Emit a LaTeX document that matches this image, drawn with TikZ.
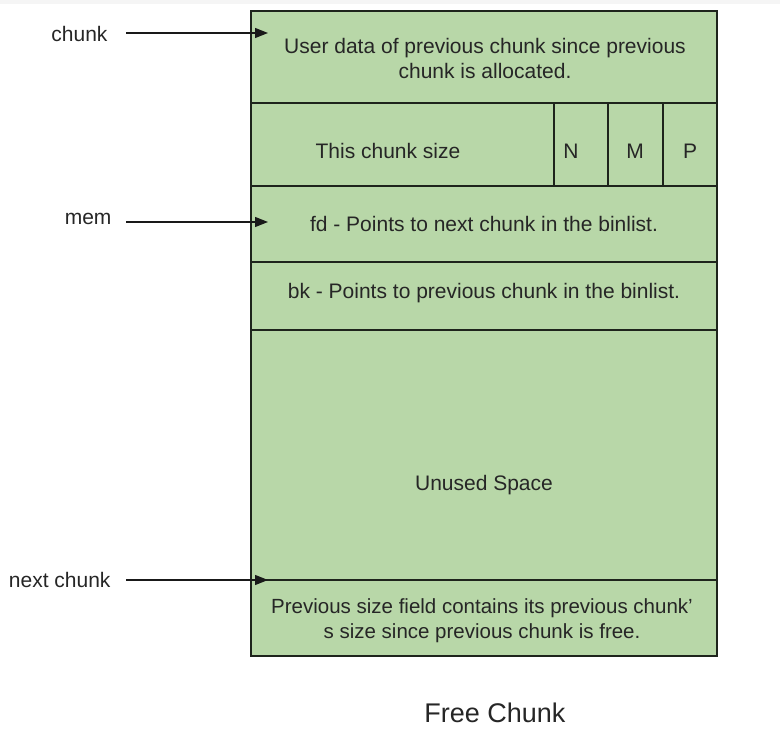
\documentclass[tikz,border=0pt]{standalone}
\usepackage{fontspec}
\setmainfont{Liberation Sans}
\usetikzlibrary{arrows.meta}
\definecolor{cellgreen}{HTML}{B8D7A8}
\definecolor{edge}{HTML}{1E241C}
\begin{document}
\begin{tikzpicture}[x=1pt,y=-1pt,
  cell/.style={draw=edge,line width=1.4pt,fill=cellgreen,inner sep=0pt},
  lbl/.style={font=\fontsize{21}{25}\selectfont,text=black!85,align=center},
  ptr/.style={line width=1.3pt,draw=black!90,-{Triangle[length=13pt,width=10pt]}}]
\useasboundingbox (0,0) rectangle (780,733);
\fill[black!4] (0,0) rectangle (780,4);
% cells
\path[cell] (251,11) rectangle (717,103);
\path[cell] (251,103) rectangle (554,186);
\path[cell] (554,103) rectangle (608,186);
\path[cell] (608,103) rectangle (663,186);
\path[cell] (663,103) rectangle (717,186);
\path[cell] (251,186) rectangle (717,262);
\path[cell] (251,262) rectangle (717,330);
\path[cell] (251,330) rectangle (717,580);
\path[cell] (251,580) rectangle (717,656);
% texts
\node[lbl] (ud) at (485,58) {User data of previous chunk since previous\\chunk is allocated.};
\node[lbl] (sz) at (388,151) {This chunk size};
\node[lbl] (n) at (571,151) {N};
\node[lbl] (m) at (635,151) {M};
\node[lbl] (p) at (690,151) {P};
\node[lbl] (fd) at (484,224) {fd - Points to next chunk in the binlist.};
\node[lbl] (bk) at (484,293) {bk - Points to previous chunk in the binlist.};
\node[lbl] (us) at (484,485) {Unused Space};
\node[lbl,font=\fontsize{20.5}{25}\selectfont] (ps) at (482,621) {Previous size field contains its previous chunk'\\s size since previous chunk is free.};
% pointer labels
\node[lbl,anchor=east] (lc) at (111,34) {chunk};
\node[lbl,anchor=east] (lm) at (115,219) {mem};
\node[lbl,anchor=east] (ln) at (114,580) {next chunk};
\coordinate (tc) at (268,33);
\coordinate (tm) at (268,222);
\coordinate (tn) at (268,580);
\draw[ptr] (126,33) -- (tc);
\draw[ptr] (126,222) -- (tm);
\draw[ptr] (126,580) -- (tn);
% title
\node[font=\fontsize{27}{30}\selectfont,text=black!85] (title) at (495,713) {Free Chunk};
\end{tikzpicture}
\end{document}
